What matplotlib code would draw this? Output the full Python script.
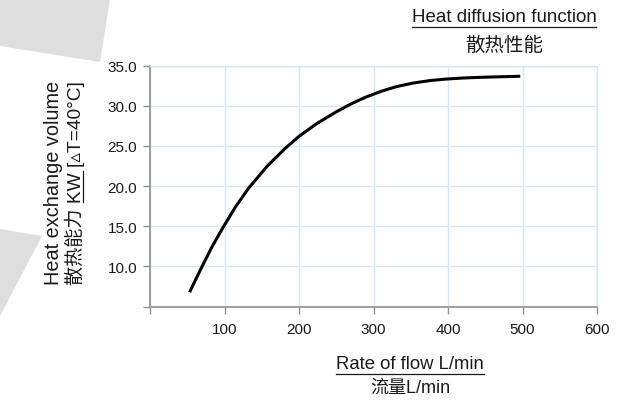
import matplotlib
matplotlib.use("Agg")
import matplotlib.pyplot as plt
from matplotlib.lines import Line2D
from matplotlib.patches import Polygon

# curve
flow = [54, 67, 83, 99, 114, 132, 157, 182, 200, 224, 250, 270, 290, 310, 331, 354,
        376, 398, 421, 443, 466, 495]
kw = [6.95, 9.45, 12.4, 15.0, 17.3, 19.7, 22.45, 24.75, 26.2, 27.8, 29.25, 30.25,
      31.1, 31.8, 32.4, 32.85, 33.15, 33.34, 33.47, 33.55, 33.61, 33.68]

x_ticks = [0, 100, 200, 300, 400, 500, 600]
x_labels = ["", "100", "200", "300", "400", "500", "600"]
y_ticks = [5, 10, 15, 20, 25, 30, 35]
y_labels = ["", "10.0", "15.0", "20.0", "25.0", "30.0", "35.0"]

title_en = "Heat diffusion function"
title_cn = "散热性能"
xlabel_en = "Rate of flow L/min"
xlabel_cn = "流量L/min"
ylabel_en = "Heat exchange volume"
ylabel_pre = "散热能力 "
ylabel_kw = "KW"
ylabel_post = " [▵T=40°C]"

FONTS = ["Liberation Sans", "Noto Sans CJK SC", "DejaVu Sans"]
plt.rcParams["font.family"] = FONTS

W, H = 643, 402
GRID = "#cfe9f7"
SPINE = "#8f8f8f"
INK = "#1a1a1a"

fig = plt.figure(figsize=(W / 100, H / 100), dpi=100)

# light grey background shapes on the left edge
for pts in ([(0, 0), (110, 0), (100, 63), (0, 47)],
            [(0, 230), (42, 237), (0, 317)]):
    fig.patches.append(Polygon([(x / W, 1 - y / H) for x, y in pts], closed=True,
                               transform=fig.transFigure, facecolor="#dedede",
                               edgecolor="none", zorder=0))

ax = fig.add_axes([150 / W, 1 - 307.5 / H, 447 / W, 240.8 / H])
ax.plot(flow, kw, color="black", lw=2.2, solid_joinstyle="round", zorder=3)

ax.set_xlim(0, 600)
ax.set_ylim(5, 35)
ax.set_xticks(x_ticks, x_labels)
ax.set_yticks(y_ticks, y_labels)
ax.grid(True, color=GRID, lw=1.0)
ax.tick_params(length=5.2, width=1.0, color=SPINE, labelsize=11, pad=4, labelcolor=INK)
ax.tick_params(axis="x", pad=6)
for side in ("left", "bottom"):
    ax.spines[side].set_color(SPINE)
    ax.spines[side].set_linewidth(1.2)
for side in ("top", "right"):
    ax.spines[side].set_color(GRID)
    ax.spines[side].set_linewidth(1.0)

t_en = fig.text(504 / W, 1 - 22 / H, title_en, ha="center", va="baseline",
                fontsize=13.5, color=INK)
fig.text(504 / W, 1 - 51 / H, title_cn, ha="center", va="baseline", fontsize=14, color=INK)
x_en = fig.text(410 / W, 1 - 369 / H, xlabel_en, ha="center", va="baseline",
                fontsize=13.3, color=INK)
fig.text(410 / W, 1 - 393 / H, xlabel_cn, ha="center", va="baseline", fontsize=13,
         color=INK)
fig.text(53.5 / W, 1 - 183 / H, ylabel_en, ha="center", va="center", rotation=90,
         fontsize=14.3, color=INK)
y_cn = fig.text(75 / W, 1 - 183 / H, ylabel_pre + ylabel_kw + ylabel_post, ha="center",
                va="center", rotation=90, fontsize=13.8, color=INK)

fig.canvas.draw()
r = fig.canvas.get_renderer()


def hline(x0, x1, y):
    fig.add_artist(Line2D([x0 / W, x1 / W], [y / H, y / H], color=INK, lw=0.9,
                          transform=fig.transFigure))


def vline(x, y0, y1):
    fig.add_artist(Line2D([x / W, x / W], [y0 / H, y1 / H], color=INK, lw=0.9,
                          transform=fig.transFigure))


# underline the english headings (pixel coords, origin bottom left)
for t in (t_en, x_en):
    bb = t.get_window_extent(r)
    _, _, d = r.get_text_width_height_descent(t.get_text(), t.get_fontproperties(), False)
    hline(bb.x0, bb.x1, bb.y0 + d - 1.5)

# underline "KW" in the rotated label (text runs bottom to top, baseline on the right)
bb = y_cn.get_window_extent(r)
prop = y_cn.get_fontproperties()
w_pre, _, _ = r.get_text_width_height_descent(ylabel_pre, prop, False)
w_kw, _, _ = r.get_text_width_height_descent(ylabel_kw, prop, False)
_, _, d = r.get_text_width_height_descent(y_cn.get_text(), prop, False)
vline(bb.x1 - d + 1.5, bb.y0 + w_pre, bb.y0 + w_pre + w_kw)

fig.savefig("out.png", dpi=100)
